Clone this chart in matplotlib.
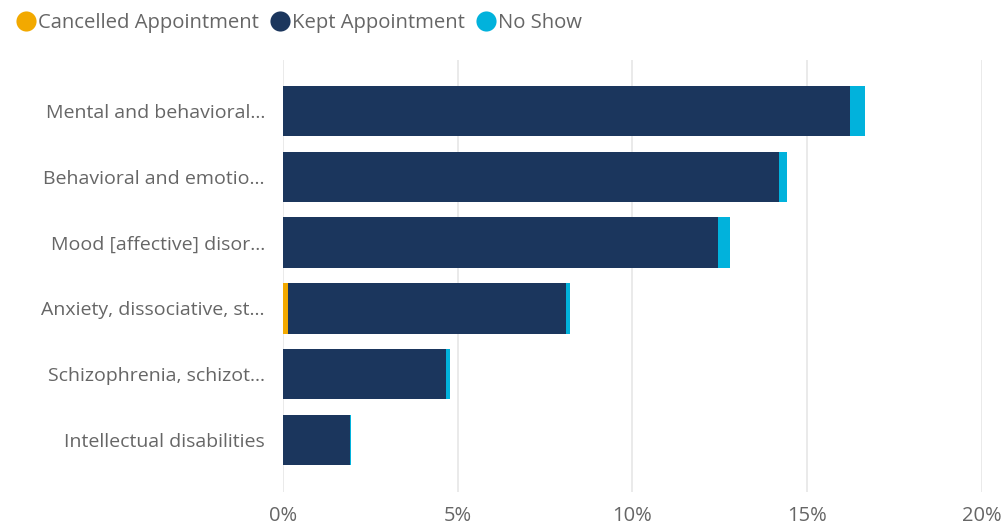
import matplotlib.pyplot as plt
import numpy as np
from matplotlib.lines import Line2D

# Data (share of appointments, %)
categories = [
    "Mental and behavioral...",
    "Behavioral and emotio...",
    "Mood [affective] disor...",
    "Anxiety, dissociative, st...",
    "Schizophrenia, schizot...",
    "Intellectual disabilities",
]
cancelled = [0.0, 0.0, 0.0, 0.14, 0.0, 0.0]
kept = [16.24, 14.19, 12.45, 7.97, 4.66, 1.92]
no_show = [0.42, 0.23, 0.34, 0.10, 0.12, 0.04]
x_ticks = [0, 5, 10, 15, 20]

series_names = ["Cancelled Appointment", "Kept Appointment", "No Show"]
colors = ["#F2A900", "#1B365D", "#01B2DC"]
text_color = "#666666"

plt.rcParams["font.family"] = ["Open Sans", "DejaVu Sans"]


def main() -> None:
    fig = plt.figure(figsize=(10.07, 5.25), dpi=100)
    ax = fig.add_axes([0.281, 0.062, 0.694, 0.824])

    y = np.arange(len(categories))
    left = np.zeros(len(categories))
    for vals, color in zip([cancelled, kept, no_show], colors):
        vals = np.array(vals)
        ax.barh(y, vals, left=left, height=0.77, color=color,
                edgecolor="none", zorder=3)
        left += vals

    ax.set_xlim(0, 20)
    ax.set_ylim(5.8, -0.78)
    ax.set_yticks(y)
    ax.set_yticklabels(categories, fontsize=14, color=text_color)
    ax.set_xticks(x_ticks)
    ax.set_xticklabels([f"{t}%" for t in x_ticks], fontsize=14.5, color=text_color)
    ax.tick_params(length=0, axis="y", pad=13)
    ax.tick_params(length=0, axis="x", pad=10)
    ax.grid(axis="x", color="#E6E6E6", linewidth=1.2, zorder=0)
    for s in ax.spines.values():
        s.set_visible(False)

    handles = [Line2D([], [], marker="o", linestyle="none", markersize=14.5,
                      markerfacecolor=c, markeredgecolor="none") for c in colors]
    fig.legend(handles, series_names, loc="upper left",
               bbox_to_anchor=(-0.006, 1.01), ncol=3, frameon=False,
               fontsize=14.6, labelcolor=text_color, handletextpad=-0.12,
               columnspacing=0.35, handlelength=1.4)

    fig.savefig("out.png", dpi=100)
    plt.close(fig)


if __name__ == "__main__":
    main()
